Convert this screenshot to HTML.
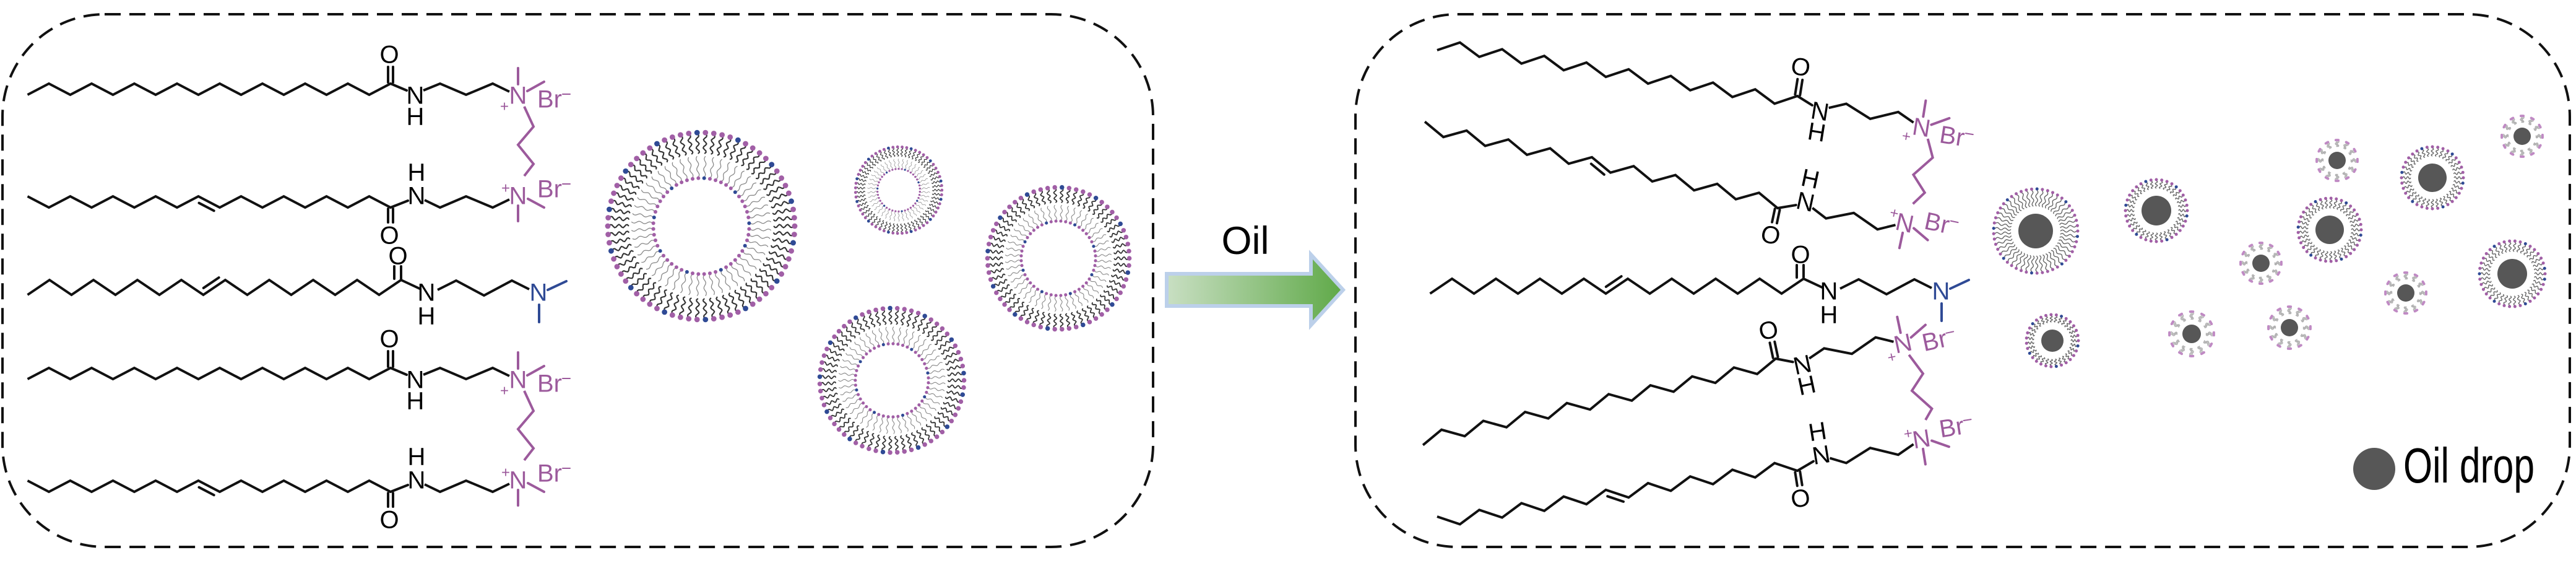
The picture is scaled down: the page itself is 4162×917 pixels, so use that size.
<!DOCTYPE html>
<html><head><meta charset="utf-8">
<style>
html,body{margin:0;padding:0;background:#fff;}
svg{display:block;}
text{font-family:"Liberation Sans",Arial,sans-serif;}
</style></head>
<body>
<svg id="s" xmlns="http://www.w3.org/2000/svg" width="4162" height="917" viewBox="0 0 4162 917">
<rect width="4162" height="917" fill="#fff"/>
<rect x="4" y="23" width="1859" height="860" rx="165" ry="165" fill="none" stroke="#111" stroke-width="4" stroke-dasharray="26 14"/>
<rect x="2190" y="23" width="1962" height="860" rx="165" ry="165" fill="none" stroke="#111" stroke-width="4" stroke-dasharray="26 14"/>
<defs>
<linearGradient id="ag" x1="0" x2="1" y1="0" y2="0">
<stop offset="0" stop-color="#c9dfc3"/><stop offset="1" stop-color="#5fa948"/>
</linearGradient>
</defs>
<polygon points="1885,442 2118,442 2118,411 2170,468 2118,525 2118,494 1885,494" fill="url(#ag)" stroke="#bcd0ea" stroke-width="6" stroke-linejoin="miter"/>
<text x="2012" y="410" font-size="63" text-anchor="middle" fill="#000">Oil</text>
<circle cx="3836" cy="757" r="34" fill="#575757"/>
<text x="3883" y="779" font-size="80" fill="#000" textLength="212" lengthAdjust="spacingAndGlyphs">Oil drop</text>
<g id="mols"></g>
<g id="ves"></g>
</svg>
<script>
const NS='http://www.w3.org/2000/svg';
function el(t,a,p){const e=document.createElementNS(NS,t);for(const k in a)e.setAttribute(k,a[k]);p.appendChild(e);return e;}
const BK='#111',PU='#9c5a9c',BL='#2f4a95';
function ln(g,x1,y1,x2,y2,c,w){el('line',{x1,y1,x2,y2,stroke:c||BK,'stroke-width':w||4,'stroke-linecap':'round'},g);}
function pl(g,pts,c,w){el('polyline',{points:pts.map(p=>p.join(',')).join(' '),fill:'none',stroke:c||BK,'stroke-width':w||4,'stroke-linejoin':'miter'},g);}
function tx(g,x,cy,s,c,sz,anchor){const t=el('text',{x:x,y:cy+sz*0.358,'font-size':sz,fill:c,'text-anchor':anchor||'middle'},g);t.textContent=s;return t;}
const root=document.getElementById('mols');

function chain(g,n,dx,amp,s,db){
  const pts=[];
  for(let i=0;i<=n;i++){const k=n-i;pts.push([-k*dx,(k%2)?s*amp:0]);}
  pl(g,pts);
  if(db!=null){
    const a=pts[db],b=pts[db+1];
    const vx=b[0]-a[0],vy=b[1]-a[1],L=Math.hypot(vx,vy);
    let nx=-vy/L,ny=vx/L;
    if(ny*(s>0?-1:1)<0){nx=-nx;ny=-ny;}
    const o=9,sh=0.15;
    ln(g,a[0]+vx*sh+nx*o,a[1]+vy*sh+ny*o,b[0]-vx*sh+nx*o,b[1]-vy*sh+ny*o);
  }
}
function molA(g,db){
  chain(g,17,34.5,18,1,db);
  ln(g,-4,-2,-4,-27);ln(g,4,-2,4,-27);
  tx(g,-2,-48,'O','#000',40);
  ln(g,0,0,26,11);
  tx(g,40,18,'N','#000',40);tx(g,40,52,'H','#000',40);
  pl(g,[[53,11],[80,0],[122,18],[165,0],[192,13]]);
  tx(g,206,18,'N',PU,40);tx(g,184,36,'+',PU,24);
  ln(g,206,-25,206,1,PU,4);ln(g,221,12,248,-3,PU,4);
  tx(g,237,24,'Br',PU,40,'start');ln(g,278,17,290,17,PU,2);
}
function molB(g,db){
  chain(g,17,34.5,18,-1,db);
  ln(g,-4,2,-4,24);ln(g,4,2,4,24);
  tx(g,-2,44,'O','#000',40);
  ln(g,0,0,28,-11);
  tx(g,42,-20,'N','#000',40);tx(g,42,-58,'H','#000',40);
  pl(g,[[55,-12],[80,0],[122,-18],[165,0],[192,-13]]);
  tx(g,206,-20,'N',PU,40);tx(g,186,-32,'+',PU,24);
  ln(g,206,-3,206,22,PU,4);ln(g,222,-14,248,0,PU,4);
  tx(g,237,-31,'Br',PU,40,'start');ln(g,278,-38,290,-38,PU,2);
}
function molC(g){
  chain(g,17,35.5,24,1,8);
  ln(g,-11,-2,-11,-22);ln(g,0,-2,0,-22);
  tx(g,-5,-40,'O','#000',40);
  ln(g,0,0,30,14);
  tx(g,41,19,'N','#000',40);tx(g,41,57,'H','#000',40);
  pl(g,[[59,16],[89,1],[134,25],[179,1],[207,15]]);
  tx(g,222,19,'N',BL,40);
  ln(g,237,16,267,2,BL,4);ln(g,223,40,223,68,BL,4);
}
function grp(x,y,a){return el('g',{transform:`translate(${x},${y}) rotate(${a||0})`},root);}
function tf(x,y,a,px,py){const r=a*Math.PI/180;return [x+px*Math.cos(r)-py*Math.sin(r),y+px*Math.sin(r)+py*Math.cos(r)];}
function linker(p1,p2){
  const x1=p1[0],y1=p1[1],x2=p2[0],y2=p2[1];
  const pts=[[x1+10,y1+19]];
  const steps=[[25,42],[0,80],[25,120],[10,145]];
  const L=y2-y1; const sc=L/163;
  for(const st of steps){pts.push([x1+st[0]+(x2-x1)*(st[1]/163),y1+19+(st[1])*sc*((L-36)/L)]);}
  pl(root,pts,PU,4);
}
molA(grp(631,135,0),null);
molB(grp(631,335,0),8);
molC(grp(648,452,0));
molA(grp(631,594,0),null);
molB(grp(631,794,0),8);
linker([837,153],[837,315]);
linker([837,612],[837,774]);
const R=[[2904,155,9,'A'],[2872,336,12,'B'],[2914,450,0,'C'],[2869,579,-12,'A'],[2904,760,-9,'B']];
R.forEach(r=>{const g=grp(r[0],r[1],r[2]);if(r[3]=='A')molA(g,null);else if(r[3]=='B')molB(g,8);else molC(g);});
const nA1=tf(2904,155,9,206,18),nB1=tf(2872,336,12,206,-20);
const nA2=tf(2869,579,-12,206,18),nB2=tf(2904,760,-9,206,-20);
linker(nA1,nB1);linker(nA2,nB2);

const V=document.getElementById('ves');
function wavy(cx,cy,th,a,b,amp,waves,col,w){
  let d='';const c=Math.cos(th),s=Math.sin(th);
  for(let i=0;i<=14;i++){const t=i/14,rr=a+(b-a)*t,off=amp*Math.sin(t*Math.PI*2*waves);
    const x=cx+rr*c-off*s,y=cy+rr*s+off*c;d+=(i?'L':'M')+x.toFixed(1)+' '+y.toFixed(1);}
  el('path',{d,fill:'none',stroke:col,'stroke-width':w},V);
}
function head(cx,cy,th,r,hr,blue,col){el('circle',{cx:cx+r*Math.cos(th),cy:cy+r*Math.sin(th),r:hr,fill:blue?BL:(col||'#a15fa6')},V);}
function vesicle(cx,cy,Ro,Ri,sc){
  const mid=(Ro+Ri)/2;
  const no=Math.round(2*Math.PI*Ro/(14*sc)),ni=Math.round(2*Math.PI*Ri/(9*sc));
  for(let i=0;i<no;i++){const th=i/no*2*Math.PI;
    wavy(cx,cy,th,Ro-6*sc,mid+2,2.6*sc,2.5,'#333',2.1*sc);
    head(cx,cy,th,Ro-4*sc,4.4*sc,i%5==2);}
  for(let i=0;i<ni;i++){const th=(i+0.5)/ni*2*Math.PI;
    wavy(cx,cy,th,Ri+4*sc,mid-2,1.8*sc,2,'#8a8a8a',1.3*sc);
    head(cx,cy,th,Ri+2.5*sc,3*sc,i%6==3);}
}
vesicle(1133,365,155,75,1);
vesicle(1452,307,72,33,0.55);
vesicle(1710,417,118,58,0.85);
vesicle(1441,614,120,57,0.85);
function drop(cx,cy,Ro,rc,big){
  if(big){
    const n=Math.round(2*Math.PI*Ro/9);
    for(let i=0;i<n;i++){const th=i/n*2*Math.PI;
      wavy(cx,cy,th,Ro-4,rc+12,1.8,2,'#666',1.4);
      head(cx,cy,th,Ro-2,2.5,i%6==1);}
  } else {
    const n=12;
    for(let i=0;i<n;i++){for(let j=-1;j<=1;j++){const th=(i+j*0.12)/n*2*Math.PI;
      wavy(cx,cy,th,Ro-3,rc+8,1.3,1.5,'#b0b0b0',1.3);
      head(cx,cy,th,Ro-2,2,false,'#c08ac4');}}
  }
  el('circle',{cx,cy,r:rc,fill:'#575757'},V);
}
drop(3289,373,70,28,true);
drop(3484,340,52,24,true);
drop(3764,371,53,23,true);
drop(3930,287,52,23,true);
drop(4059,442,55,24,true);
drop(3316,550,44,18,true);
drop(3776,259,35,14,false);
drop(4075,220,35,14,false);
drop(3653,425,35,14,false);
drop(3887,473,35,14,false);
drop(3541,539,38,15,false);
drop(3699,529,36,14,false);
</script>
</body></html>
